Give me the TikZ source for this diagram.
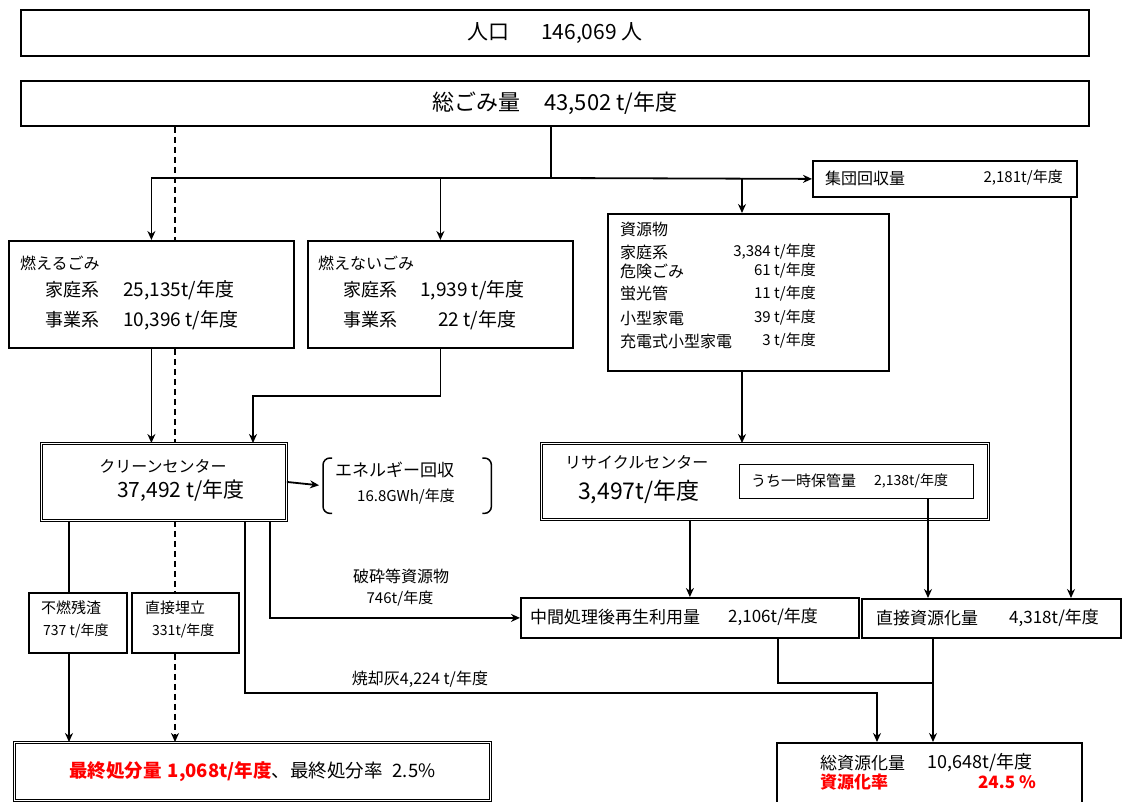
\documentclass[tikz,border=0pt]{standalone}
\usepackage{fontspec}
\setmainfont{Noto Sans CJK JP}
\usetikzlibrary{arrows.meta}
\newcommand{\fsz}[1]{\fontsize{#1}{#1}\selectfont}
\tikzset{
  box/.style={draw, line width=1.8pt, anchor=north west, inner sep=0pt},
  dbox/.style={draw, double, line width=0.9pt, double distance=1.6pt, anchor=north west, inner sep=0pt},
  lbl/.style={anchor=west, inner sep=0pt},
  flow/.style={line width=1.8pt},
  hot/.style={text=red, font=\bfseries\fsz{17}},
}

\begin{document}
\begin{tikzpicture}[x=1pt,y=-1pt,>={Stealth[length=9pt,width=8pt]}]
\useasboundingbox (0,0) rectangle (1122,802);
% boxes
\node[box,minimum width=1068,minimum height=46,font=\fsz{21}] (pop) at (20,9) {人口\hspace{32pt}146,069 人};
\node[box,minimum width=1068,minimum height=45,font=\fsz{22}] (total) at (20,80) {総ごみ量\hspace{24pt}43,502 t/年度};
\node[box,minimum width=264,minimum height=36] (group) at (812,160) {};
\node[box,minimum width=285,minimum height=107] (burn) at (8,240) {};
\node[box,minimum width=265,minimum height=107] (noburn) at (307,240) {};
\node[box,minimum width=281,minimum height=157] (res) at (607,213) {};
\node[dbox,minimum width=245,minimum height=77] (clean) at (41,443) {};
\node[anchor=north west,inner sep=0pt,minimum width=168,minimum height=55] (energy) at (323,458) {};
\node[dbox,minimum width=447,minimum height=76] (recyc) at (541,443) {};
\node[box,line width=1.2pt,minimum width=234,minimum height=34] (keep) at (739,464) {};
\node[box,minimum width=98,minimum height=60] (resid) at (28,592) {};
\node[box,minimum width=107,minimum height=60] (fill) at (131,592) {};
\node[box,minimum width=338,minimum height=40] (mid) at (520,597) {};
\node[box,minimum width=259,minimum height=39] (direct) at (861,598) {};
\node[dbox,minimum width=476,minimum height=58,font=\fsz{18.5}] (final) at (14,742) {{\color{red}\bfseries 最終処分量\hspace{6pt}1,068t/年度}、最終処分率\hspace{10pt}2.5\%};
\node[box,minimum width=305,minimum height=66] (sum) at (776,742) {};

% texts
\node[lbl,font=\fsz{16}] at (825,178) {集団回収量};
\node[lbl,anchor=east,font=\fsz{15}] at (1063,178) {2,181t/年度};
\node[lbl,font=\fsz{16}] at (20,263) {燃えるごみ};
\node[lbl,font=\fsz{18}] at (45,290) {家庭系};
\node[lbl,font=\fsz{19}] at (123,290) {25,135t/年度};
\node[lbl,font=\fsz{18}] at (45,320) {事業系};
\node[lbl,font=\fsz{19}] at (123,320) {10,396 t/年度};
\node[lbl,font=\fsz{16}] at (318,263) {燃えないごみ};
\node[lbl,font=\fsz{18}] at (343,290) {家庭系};
\node[lbl,font=\fsz{19}] at (420,290) {1,939 t/年度};
\node[lbl,font=\fsz{18}] at (343,320) {事業系};
\node[lbl,font=\fsz{19}] at (438,320) {22 t/年度};
\node[lbl,font=\fsz{16}] at (620,229) {資源物};
\foreach \yy/\lab/\val in {252/家庭系/{3,384 t/年度}, 271/危険ごみ/{61 t/年度}, 294/蛍光管/{11 t/年度}, 318/小型家電/{39 t/年度}, 341/充電式小型家電/{3 t/年度}}{
  \node[lbl,font=\fsz{16}] at (620,\yy) {\lab};
  \node[lbl,anchor=east,font=\fsz{15}] at (816,\yy) {\val};
}
\node[inner sep=0pt,font=\fsz{16}] at (163,466) {クリーンセンター};
\node[lbl,font=\fsz{21}] at (117,491) {37,492 t/年度};
\draw[line width=1.5pt,rounded corners=7pt] ([xshift=9pt]energy.north west) -- (energy.north west) -- (energy.south west) -- ([xshift=9pt]energy.south west);
\draw[line width=1.5pt,rounded corners=7pt] ([xshift=-9pt]energy.north east) -- (energy.north east) -- (energy.south east) -- ([xshift=-9pt]energy.south east);
\node[lbl,font=\fsz{17}] at (335,470) {エネルギー回収};
\node[lbl,font=\fsz{15}] at (357,497) {16.8GWh/年度};
\node[lbl,font=\fsz{16}] at (565,462) {リサイクルセンター};
\node[lbl,font=\fsz{23}] at (578,492) {3,497t/年度};
\node[lbl,font=\fsz{15}] at (751,481) {うち一時保管量};
\node[lbl,font=\fsz{14}] at (874,481) {2,138t/年度};
\node[lbl,font=\fsz{17}] at (530,617) {中間処理後再生利用量};
\node[lbl,font=\fsz{17}] at (728,617) {2,106t/年度};
\node[lbl,font=\fsz{17}] at (876,618) {直接資源化量};
\node[lbl,font=\fsz{17}] at (1009,618) {4,318t/年度};
\node[lbl,font=\fsz{15}] at (41,608) {不燃残渣};
\node[lbl,font=\fsz{14}] at (43,631) {737 t/年度};
\node[lbl,font=\fsz{15}] at (145,608) {直接埋立};
\node[lbl,font=\fsz{14}] at (152,631) {331t/年度};
\node[inner sep=0pt,font=\fsz{16}] at (401,576) {破砕等資源物};
\node[inner sep=0pt,font=\fsz{15}] at (400,599) {746t/年度};
\node[inner sep=0pt,font=\fsz{16}] at (420,679) {焼却灰4,224 t/年度};
\node[lbl,font=\fsz{17}] at (820,763) {総資源化量};
\node[lbl,font=\fsz{18}] at (927,763) {10,648t/年度};
\node[lbl,hot] at (820,782) {資源化率};
\node[lbl,hot,anchor=east] at (1036,782) {24.5 \%};

% guides
\coordinate (split) at (551,178);
\coordinate (xdash) at (175,0);
\coordinate (xres) at (742,0);
\coordinate (xgrp) at (1071,0);
\coordinate (xkeep) at (928,0);
\coordinate (xresid) at (69,0);
\coordinate (xash) at (245,0);
\coordinate (xcrush) at (270,0);
\coordinate (xmid) at (778,0);
\coordinate (xdir) at (933,0);
\coordinate (xin) at (877,0);
\coordinate (xnb) at (253,0);
\coordinate (ynb) at (0,396);
\coordinate (yash) at (0,693);
\coordinate (ymid) at (0,683);

% flows
\draw[flow] (total.south -| split) -- (split);
\draw[flow,->] (split) -| (burn.north);
\draw[flow,->] (split) -| (noburn.north);
\draw[flow,->] (split) -- (group.west);
\draw[flow,->] (split -| xres) -- (res.north -| xres);
\draw[flow,->] (group.south -| xgrp) -- (direct.north -| xgrp);
\draw[flow,->] (burn.south) -- (clean.north -| burn.south);
\draw[flow,->] (noburn.south) |- (ynb -| xnb) -- (clean.north -| xnb);
\draw[flow,->] (res.south -| xres) -- (recyc.north -| xres);
\draw[flow,->,shorten >=4pt] (clean.east) -- (energy.west);
\draw[flow,->] (recyc.south -| mid.north) -- (mid.north);
\draw[flow,->] (keep.south -| xkeep) -- (direct.north -| xkeep);
\draw[flow] (clean.south -| xresid) -- (resid.north -| xresid);
\draw[flow,->] (resid.south -| xresid) -- (final.north -| xresid);
\draw[flow,dash pattern=on 6pt off 4pt] (total.south -| xdash) -- (burn.north -| xdash);
\draw[flow,dash pattern=on 6pt off 4pt] (burn.south -| xdash) -- (clean.north -| xdash);
\draw[flow,dash pattern=on 6pt off 4pt] (clean.south -| xdash) -- (fill.north -| xdash);
\draw[flow,dash pattern=on 6pt off 4pt,->] (fill.south -| xdash) -- (final.north -| xdash);
\draw[flow,->] (clean.south -| xcrush) |- (mid.west);
\draw[flow,->] (clean.south -| xash) |- (yash -| xin) -- (sum.north -| xin);
\draw[flow] (mid.south -| xmid) |- (ymid -| xdir);
\draw[flow,->] (direct.south -| xdir) -- (sum.north -| xdir);
\end{tikzpicture}
\end{document}
